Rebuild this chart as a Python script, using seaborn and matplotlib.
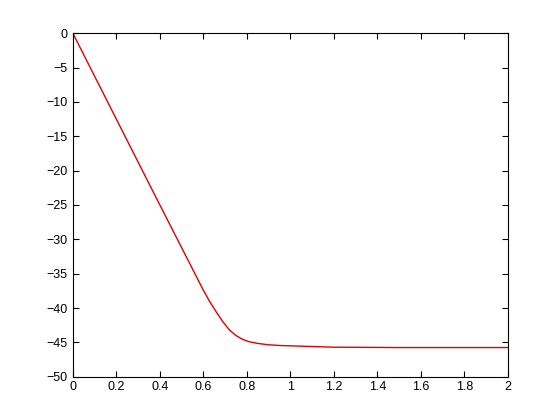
import seaborn as sns
import pandas as pd
import matplotlib.pyplot as plt

sns.set_theme(style='ticks')
plt.rcParams['font.family'] = ['Liberation Sans', 'DejaVu Sans']

# values
t_vals = [0, 0.2, 0.4, 0.55, 0.6, 0.63, 0.66, 0.69, 0.72, 0.75, 0.78, 0.81,
          0.85, 0.9, 0.95, 1.0, 1.1, 1.2, 1.5, 2.0]
y_vals = [0, -12.5, -25, -34.3, -37.4, -39.1, -40.6, -42.0, -43.2, -44.0, -44.55,
          -44.9, -45.15, -45.35, -45.45, -45.5, -45.6, -45.7, -45.75, -45.75]
x_ticks = [0, 0.2, 0.4, 0.6, 0.8, 1, 1.2, 1.4, 1.6, 1.8, 2]
x_labels = ['0', '0.2', '0.4', '0.6', '0.8', '1', '1.2', '1.4', '1.6', '1.8', '2']
y_ticks = [-50, -45, -40, -35, -30, -25, -20, -15, -10, -5, 0]

df = pd.DataFrame({'t': t_vals, 'y': y_vals})

fig = plt.figure(figsize=(5.6, 4.2), dpi=100)
ax = fig.add_axes([0.130, 0.103, 0.777, 0.818])
sns.lineplot(data=df, x='t', y='y', color='#e00000', linewidth=1.0, ax=ax)

ax.set_xlim(0, 2)
ax.set_ylim(-50, 0)
ax.set_xticks(x_ticks)
ax.set_xticklabels(x_labels)
ax.set_yticks(y_ticks)
ax.set_xlabel('')
ax.set_ylabel('')
for s in ax.spines.values():
    s.set_visible(True)
    s.set_linewidth(0.8)
    s.set_color('black')
ax.tick_params(direction='in', length=4, width=0.8, top=True, right=True,
               labelsize=9, colors='black')
ax.tick_params(axis='x', pad=3)
ax.tick_params(axis='y', pad=4)

fig.savefig('out.png', dpi=100)
